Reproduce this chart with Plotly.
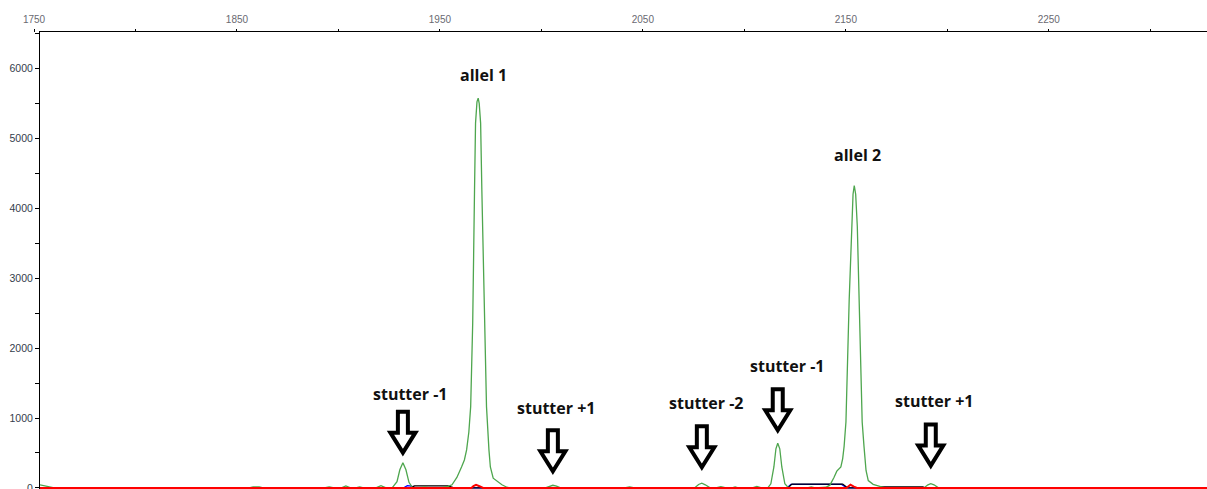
import plotly.graph_objects as go

# ---- electropherogram data (scan point vs. RFU) per dye channel ----
green_scan = [1753, 1755, 1758, 1760, 1856, 1858, 1861, 1863, 1893, 1895.5, 1898,
              1901.5, 1903.7, 1906, 1908.5, 1910.5, 1912.5, 1918.5, 1921, 1923.5,
              1926.5, 1928.9, 1930.3, 1931.8, 1933.3, 1934.8, 1936.5, 1940, 1942.5,
              1945, 1950, 1952, 1954, 1956, 1958.4, 1960.7, 1962.1, 1963.2, 1964.3,
              1965.2, 1966.2, 1967.1, 1967.6, 1968.3, 1968.9, 1969.4, 1970.1, 1970.7,
              1971.9, 1973.0, 1974.2, 1974.9, 1976.3, 1978.6, 1980.6, 1983.0, 1985.0,
              2002, 2004, 2005.7, 2007.5, 2009.5, 2041, 2043.5, 2046, 2075.5, 2077.5,
              2079.1, 2080.8, 2083, 2086, 2088.5, 2091, 2094, 2095.5, 2097, 2104,
              2106.2, 2108.5, 2111.6, 2113.1, 2114.6, 2115.6, 2116.5, 2117.5, 2118.5,
              2120.0, 2121.5, 2124, 2131, 2133, 2135, 2140.2, 2142.2, 2144.2, 2145.6,
              2147.6, 2148.5, 2149.2, 2150.1, 2151.7, 2152.9, 2153.6, 2154.2, 2154.9,
              2155.7, 2156.6, 2158.1, 2159.0, 2160.0, 2161.1, 2163.5, 2167.6, 2169.7,
              2188.5, 2190.5, 2191.9, 2193.5, 2195.5, 2197, 2328]
green_rfu = [45, 30, 5, 0, 0, 15, 15, 0, 0, 15, 0,
             0, 28, 0, 0, 15, 0, 0, 32, 0,
             0, 90, 260, 362, 260, 80, 5, 0, 15,
             0, 0, 12, 22, 45, 150, 300, 400, 544, 800,
             1163, 2356, 4263, 5217, 5520, 5575, 5500, 5217, 4263,
             2356, 1163, 544, 300, 139, 90, 45, 10, 0,
             0, 25, 38, 25, 0, 0, 15, 0, 0, 50,
             68, 45, 5, 0, 18, 0, 0, 15, 0, 0,
             22, 0, 0, 60, 300, 560, 640, 560, 300,
             60, 10, 0, 0, 15, 0, 10, 40, 150, 240,
             300, 420, 594, 943, 2690, 3738, 4200, 4325, 4200,
             3738, 2690, 943, 594, 250, 105, 52, 17, 0,
             0, 45, 62, 45, 5, 0, 0]

blue_scan = [1753, 1932, 1934, 1936, 1938, 2089, 2091, 2107, 2109,
             2121, 2123, 2148, 2150.5, 2328]
blue_rfu = [0, 0, 32, 25, 0, 0, 10, 10, 0,
            0, 50, 50, 0, 0]

black_scan = [1753, 1935.3, 1937.5, 1954, 1957, 2121.5, 2123.5, 2148.5, 2151,
              2166.5, 2167.5, 2188, 2189, 2328]
black_rfu = [0, 0, 30, 30, 0, 0, 55, 55, 0,
             0, 15, 15, 0, 0]

red_scan = [1753, 1965.5, 1966.5, 1967.8, 1969.5, 1971.3, 2150.3, 2151.3, 2152.3,
            2154, 2155.5, 2328]
red_rfu = [0, 0, 25, 45, 25, 0, 0, 25, 45, 20, 0, 0]

# labelled peaks
allele_labels = ["allel 1", "allel 2"]
allele_scan = [1968.9, 2154.2]
allele_rfu = [5575, 4325]

stutter_labels = ["stutter -1", "stutter +1", "stutter -2", "stutter -1", "stutter +1"]
stutter_scan = [1931.8, 2005.7, 2079.1, 2116.5, 2191.9]
stutter_rfu = [362, 38, 68, 640, 62]

# ---- layout constants ----
W, H = 1207, 489
M_L, M_T = 34, 32
X_START, X_END = 1753, 2328
X_LABEL_START = 1750
Y_RANGE = [-15, 6520]

plot_w = W - M_L
main_px = plot_w - 6                      # y-axis sits 6 px inside the plot area
px_per_unit = main_px / (X_END - X_START)
label_axis_end = X_LABEL_START + plot_w / px_per_unit

# arrow / label placement (pixels above the marked peak)
arrow_gap = [10, 14, 16, 13, 18]
label_dx = [7, 3, 4, 9, 3]
label_dy = [69, 77, 80, 77, 83]
allele_dx = [5, 3]
allele_dy = [23, 31]

GREEN = "#4ea64e"
LABEL_FONT = dict(family="Open Sans", size=16, color="#111111", weight=700)

fig = go.Figure()
fig.add_trace(go.Scatter(x=blue_scan, y=blue_rfu, mode="lines",
                         line=dict(color="#0000ff", width=1.3), hoverinfo="skip"))
fig.add_trace(go.Scatter(x=black_scan, y=black_rfu, mode="lines",
                         line=dict(color="#000000", width=1.3), hoverinfo="skip"))
fig.add_trace(go.Scatter(x=green_scan, y=green_rfu, mode="lines",
                         line=dict(color=GREEN, width=1.3), hoverinfo="skip"))
# the red channel sits on the scan-number axis that carries the tick labels
fig.add_trace(go.Scatter(x=red_scan, y=red_rfu, mode="lines", xaxis="x2",
                         line=dict(color="#ff0000", width=2), hoverinfo="skip"))


def arrow_path(gap, head_hw=12.5, shaft_hw=5.0, head_h=20.0, total_h=41.0):
    pts = [(0, gap), (-head_hw, gap + head_h), (-shaft_hw, gap + head_h),
           (-shaft_hw, gap + total_h), (shaft_hw, gap + total_h),
           (shaft_hw, gap + head_h), (head_hw, gap + head_h)]
    return "M " + " L ".join(f"{x},{y}" for x, y in pts) + " Z"


shapes = []
annotations = []
for lab, sx, sy, g, dx, dy in zip(stutter_labels, stutter_scan, stutter_rfu,
                                  arrow_gap, label_dx, label_dy):
    shapes.append(dict(type="path", xref="x", yref="y",
                       xsizemode="pixel", ysizemode="pixel",
                       xanchor=sx, yanchor=sy, path=arrow_path(g),
                       line=dict(color="black", width=4),
                       fillcolor="white", layer="above"))
    annotations.append(dict(x=sx, y=sy, xref="x", yref="y", text=lab,
                            showarrow=False, xshift=dx, yshift=dy,
                            yanchor="middle", font=LABEL_FONT))

for lab, ax, ay, dx, dy in zip(allele_labels, allele_scan, allele_rfu,
                               allele_dx, allele_dy):
    annotations.append(dict(x=ax, y=ay, xref="x", yref="y", text=lab,
                            showarrow=False, xshift=dx, yshift=dy,
                            yanchor="middle", font=LABEL_FONT))

fig.update_layout(
    width=W, height=H, autosize=False,
    margin=dict(l=M_L, r=0, t=M_T, b=0, pad=0, autoexpand=False),
    paper_bgcolor="white", plot_bgcolor="rgba(0,0,0,0)",
    showlegend=False,
    shapes=shapes, annotations=annotations,
    xaxis=dict(domain=[6 / plot_w, 1], range=[X_START, X_END], side="top",
               showline=True, linecolor="black", linewidth=1,
               ticks="", showticklabels=False, showgrid=False, zeroline=False),
    xaxis2=dict(domain=[0, 1], range=[X_LABEL_START, label_axis_end],
                anchor="free", position=1, side="top", showline=False,
                ticks="outside", ticklen=3, tickcolor="black", tickwidth=1,
                tick0=X_LABEL_START, dtick=100,
                minor=dict(ticks="outside", ticklen=3, dtick=50, tickcolor="black"),
                tickfont=dict(family="Liberation Sans", size=10, color="#6a6a72"),
                ticklabelstandoff=2, automargin=False,
                showgrid=False, zeroline=False),
    yaxis=dict(range=Y_RANGE, anchor="x", showline=True, linecolor="black",
               linewidth=1, ticks="outside", ticklen=4, tickcolor="black",
               tick0=0, dtick=1000,
               minor=dict(ticks="outside", ticklen=4, dtick=500, tickcolor="black"),
               tickfont=dict(family="Liberation Sans", size=10.5, color="#34404c"),
               ticklabeloverflow="allow", automargin=False,
               showgrid=False, zeroline=False),
)

fig.write_html("out.html")
